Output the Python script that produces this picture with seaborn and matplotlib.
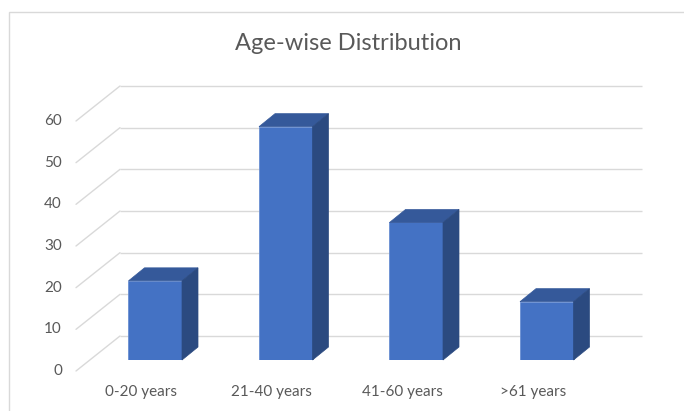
import matplotlib
matplotlib.use("Agg")
import matplotlib.pyplot as plt
from matplotlib.transforms import offset_copy, IdentityTransform
from matplotlib.patches import Polygon, Rectangle
from matplotlib.lines import Line2D
import seaborn as sns
import pandas as pd
import numpy as np

# ---- data ----
categories = ["0-20 years", "21-40 years", "41-60 years", ">61 years"]
values = [19, 56, 33, 14]
y_ticks = [0, 10, 20, 30, 40, 50, 60]
title = "Age-wise Distribution"

sns.set_theme(style="white")
plt.rcParams["font.family"] = ["Lato", "DejaVu Sans"]

W, H, DPI = 684, 411, 100
fig = plt.figure(figsize=(W / DPI, H / DPI), dpi=DPI)
ax = fig.add_axes([90 / W, 51 / H, 522 / W, 250 / H])

FRONT = "#4472C4"
TOP = "#35599A"
SIDE = "#2B4A80"
EDGE = "#6A8FD2"
GRID = "#D9D9D9"
TXT = "#595959"

df = pd.DataFrame({"cat": categories, "val": values})
sns.barplot(data=df, x="cat", y="val", color=FRONT, saturation=1, width=0.41,
            edgecolor=EDGE, linewidth=0.6, ax=ax, zorder=3)
ax.set_xlim(-0.5, 3.5)
ax.set_ylim(0, 60)
ax.set_axis_off()

# depth offsets in pixels
front_off = np.array([-14, -11])
back_off = np.array([30, 24])
bar_depth = np.array([16, 13])

yt = ax.get_yaxis_transform()

# back wall gridlines
back_tr = offset_copy(yt, fig=fig, x=back_off[0], y=back_off[1], units="dots")
for v in y_ticks:
    ax.plot([0, 1], [v, v], transform=back_tr, color=GRID, lw=1.0,
            clip_on=False, zorder=1, solid_capstyle="butt")
    p = yt.transform((0, v))
    a = p + front_off
    b = p + back_off
    fig.add_artist(Line2D([a[0], b[0]], [a[1], b[1]], transform=IdentityTransform(),
                          color=GRID, lw=1.0, zorder=1))
    lab_tr = offset_copy(yt, fig=fig, x=front_off[0] - 14, y=front_off[1], units="dots")
    ax.text(0, v, str(v), transform=lab_tr, ha="right", va="center",
            fontsize=11, color=TXT, clip_on=False)

# 3D faces of the bars
for patch in ax.patches:
    x0 = patch.get_x()
    w = patch.get_width()
    h = patch.get_height()
    p00 = ax.transData.transform((x0, 0))
    p10 = ax.transData.transform((x0 + w, 0))
    p01 = ax.transData.transform((x0, h))
    p11 = ax.transData.transform((x0 + w, h))
    top = [p01, p11, p11 + bar_depth, p01 + bar_depth]
    side = [p10, p11, p11 + bar_depth, p10 + bar_depth]
    fig.add_artist(Polygon(top, closed=True, transform=IdentityTransform(),
                           facecolor=TOP, edgecolor=TOP, lw=0.5, zorder=4))
    fig.add_artist(Polygon(side, closed=True, transform=IdentityTransform(),
                           facecolor=SIDE, edgecolor=SIDE, lw=0.5, zorder=4))

# category labels on the front plane
xl_tr = offset_copy(ax.transData, fig=fig, x=front_off[0], y=-32, units="dots")
for i, c in enumerate(categories):
    ax.text(i, 0, c, transform=xl_tr, ha="center", va="center",
            fontsize=11, color=TXT, clip_on=False)

# title
fig.text(348 / W, 1 - 44 / H, title, ha="center", va="center",
         fontsize=17, color=TXT)

# chart area border
fig.add_artist(Rectangle((9 / W, -0.05), 1.2, 1 - 12 / H + 0.05,
                         transform=fig.transFigure, fill=False,
                         edgecolor=GRID, lw=1.0))

fig.savefig("out.png", dpi=DPI)
